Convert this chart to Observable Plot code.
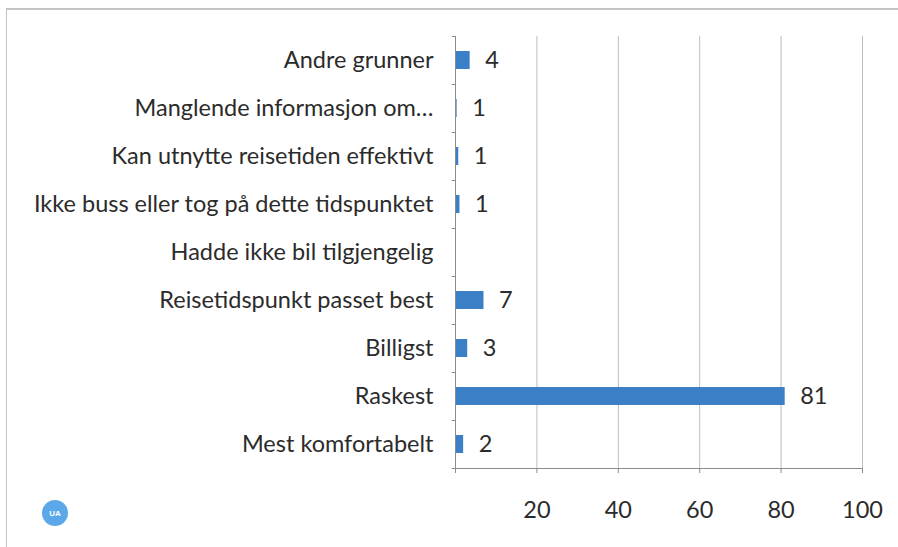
<!DOCTYPE html>
<html>
<head>
<meta charset="utf-8">
<script src="https://cdn.jsdelivr.net/npm/d3@7"></script>
<script src="https://cdn.jsdelivr.net/npm/@observablehq/plot@0.6"></script>
<style>
  html, body { margin: 0; padding: 0; background: #fff; }
  #wrap { position: relative; width: 898px; height: 547px; overflow: hidden; background: #fff; }
  #frame { position: absolute; left: 6px; top: 8px; width: 960px; height: 600px; border-left: 1px solid #c4c4c4; border-top: 2px solid #c4c4c4; box-sizing: border-box; }
  #logo { position: absolute; left: 42px; top: 500px; width: 26px; height: 26px; border-radius: 50%; background: #5ba8e8; color: #fff; font: bold 8px "Liberation Sans", Arial, sans-serif; display: flex; align-items: center; justify-content: center; }
  #chart { position: absolute; left: 0; top: 0; }
</style>
</head>
<body>
<div id="wrap">
  <div id="frame"></div>
  <div id="chart"></div>
  <div id="logo">UA</div>
</div>
<script>
const categories = [
  "Andre grunner",
  "Manglende informasjon om…",
  "Kan utnytte reisetiden effektivt",
  "Ikke buss eller tog på dette tidspunktet",
  "Hadde ikke bil tilgjengelig",
  "Reisetidspunkt passet best",
  "Billigst",
  "Raskest",
  "Mest komfortabelt"
];
const values = [3.6, 0.4, 0.8, 1.1, null, 7, 3, 81, 2];
const valueLabels = ["4", "1", "1", "1", "", "7", "3", "81", "2"];
const xTicks = [0, 20, 40, 60, 80, 100];

const data = categories.map((c, i) => ({category: c, value: values[i], label: valueLabels[i]}));
const bars = data.filter(d => d.value != null);

const W = 898, H = 547;
const mt = 36, mb = 79, ml = 455, mr = 36;
const step = (H - mt - mb) / categories.length;
const font = "Lato, 'Open Sans', sans-serif";
const fs = 23.5;

const chart = Plot.plot({
  width: W,
  height: H,
  marginTop: mt,
  marginBottom: mb,
  marginLeft: ml,
  marginRight: mr,
  style: {fontFamily: font, fontSize: fs + "px", color: "#2b2b2b", background: "transparent", overflow: "visible"},
  x: {domain: [0, 100]},
  y: {domain: categories, paddingInner: 0.62, paddingOuter: 0.31},
  marks: [
    Plot.gridX(xTicks.filter(t => t > 0), {stroke: "#bdbdbd", strokeOpacity: 1}),
    Plot.barX(bars, {x: "value", y: "category", fill: "#3b7fc6"}),
    Plot.ruleX([0], {stroke: "#8c8c8c"}),
    Plot.ruleY(categories, {y: d => d, x1: -0.8, x2: 0, dy: -step / 2, stroke: "#8c8c8c"}),
    Plot.ruleY(categories.slice(-1), {y: d => d, x1: -0.8, x2: 100, dy: step / 2, stroke: "#8c8c8c"}),
    Plot.text(bars, {x: "value", y: "category", text: "label", dx: 15, textAnchor: "start", fill: "#2b2b2b", fontSize: fs}),
    Plot.axisY({tickSize: 0, tickPadding: 22, label: null, fontSize: fs, fill: "#2b2b2b"}),
    Plot.axisX({ticks: xTicks, tickSize: 5, tickPadding: 28, label: null, tickFormat: d => d === 0 ? "" : d, stroke: "#8c8c8c", fill: "#2b2b2b", fontSize: fs})
  ]
});
document.getElementById("chart").appendChild(chart);
</script>
</body>
</html>
